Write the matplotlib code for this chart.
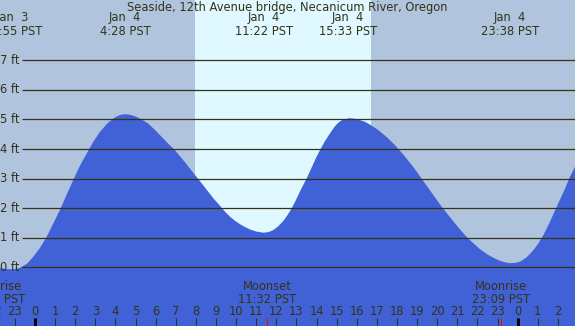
import matplotlib
matplotlib.use("Agg")
import matplotlib.pyplot as plt

# =============================================================
# DATA (hours since Jan 4 00:00 PST, heights in ft)
# =============================================================

title = "Seaside, 12th Avenue bridge, Necanicum River, Oregon"

tide_hours = [-1.74, -1.40, -1.08, -0.75, -0.40, -0.08, 0.25, 0.58, 0.90, 1.24,
              1.57, 1.90, 2.23, 2.57, 2.90, 3.23, 3.60, 3.98, 4.22, 4.47,
              4.72, 4.97, 5.30, 5.63, 5.96, 6.30, 6.63, 6.96, 7.46, 7.96,
              8.30, 8.62, 8.90, 9.20, 9.45, 9.70, 9.95, 10.19, 10.45, 10.69,
              11.00, 11.35, 11.60, 11.85, 12.10, 12.35, 12.56, 12.76, 12.95,
              13.13, 13.32, 13.51, 13.68, 13.84, 14.00, 14.17, 14.42, 14.67,
              14.86, 15.05, 15.22, 15.42, 15.65, 15.91, 16.15, 16.41, 16.74,
              17.07, 17.50, 17.90, 18.33, 18.73, 19.06, 19.39, 19.80, 20.22,
              20.70, 21.13, 21.46, 21.80, 22.13, 22.46, 22.80, 23.12, 23.37,
              23.62, 23.87, 24.12, 24.45, 24.78, 25.03, 25.28, 25.60, 25.94,
              26.30, 26.60, 26.85]
tide_ft = [-0.03, -0.06, -0.07, -0.02, 0.12, 0.36, 0.66, 1.03, 1.47, 1.94,
           2.45, 2.95, 3.43, 3.85, 4.25, 4.58, 4.87, 5.07, 5.15, 5.18,
           5.16, 5.11, 5.00, 4.86, 4.65, 4.41, 4.18, 3.96, 3.55, 3.12,
           2.83, 2.55, 2.31, 2.08, 1.88, 1.71, 1.57, 1.46, 1.36, 1.28,
           1.21, 1.17, 1.19, 1.26, 1.39, 1.57, 1.77, 1.99, 2.24,
           2.50, 2.76, 3.01, 3.26, 3.50, 3.74, 3.96, 4.27, 4.53,
           4.72, 4.87, 4.96, 5.01, 5.04, 5.02, 4.98, 4.92, 4.79,
           4.64, 4.40, 4.13, 3.80, 3.46, 3.16, 2.84, 2.45, 2.05,
           1.64, 1.28, 1.03, 0.81, 0.61, 0.45, 0.32, 0.22, 0.17,
           0.14, 0.15, 0.19, 0.34, 0.58, 0.81, 1.09, 1.53, 2.05,
           2.58, 3.06, 3.40]

extreme_hours = [-1.08, 4.47, 11.37, 15.55, 23.63]
extreme_dates = ["Jan  3", "Jan  4", "Jan  4", "Jan  4", "Jan  4"]
extreme_times = ["22:55 PST", "4:28 PST", "11:22 PST", "15:33 PST", "23:38 PST"]

moon_hours = [-1.92, 11.53, 23.15]
moon_events = ["Moonrise", "Moonset", "Moonrise"]
moon_times = ["22:05 PST", "11:32 PST", "23:09 PST"]

sunrise = 7.96
sunset = 16.71

grid_ft = [0, 1, 2, 3, 4, 5, 6, 7]
hour_ticks = list(range(-2, 27))

# =============================================================
# STYLE
# =============================================================

night = "#b0c4de"
day = "#e0f8ff"
water = "#4161d6"
ink = "#333318"
fs = 8.3

fig = plt.figure(figsize=(5.75, 3.26), dpi=100)
fig.patch.set_facecolor(night)
ax = fig.add_axes([0, 0, 1, 1])
ax.set_facecolor(night)
ax.set_xlim(-1.74, 26.85)
ax.set_ylim(-1.985, 9.04)
ax.axis("off")

xt = ax.get_xaxis_transform()

# daylight band
ax.axvspan(sunrise, sunset, color=day, lw=0, zorder=1)

# tide
ax.fill_between(tide_hours, -1.985, tide_ft, color=water, lw=0, zorder=2)

# gridlines + labels
ax.hlines(grid_ft, -0.65, 26.85, color=ink, lw=0.9, zorder=3)
for g in grid_ft:
    ax.text(-0.76, g, f"{g} ft", ha="right", va="center",
            fontsize=fs, color=ink, zorder=4)

# title and extremes
ax.text(12.56, 0.978, title, transform=xt, ha="center", va="center",
        fontsize=fs, color=ink, zorder=4)
for h, d, t in zip(extreme_hours, extreme_dates, extreme_times):
    ax.text(h, 0.945, d, transform=xt, ha="center", va="center",
            fontsize=fs, color=ink, zorder=4)
    ax.text(h, 0.903, t, transform=xt, ha="center", va="center",
            fontsize=fs, color=ink, zorder=4)

# moon events
for h, e, t in zip(moon_hours, moon_events, moon_times):
    ax.text(h, 0.120, e, transform=xt, ha="center", va="center",
            fontsize=fs, color=ink, zorder=4)
    ax.text(h, 0.081, t, transform=xt, ha="center", va="center",
            fontsize=fs, color=ink, zorder=4)
    ax.vlines(h, 0, 0.0245, transform=xt, color="red", lw=0.8, zorder=5)

# hour ticks
for h in hour_ticks:
    ax.text(h, 0.043, str(h % 24), transform=xt, ha="center", va="center",
            fontsize=fs, color=ink, zorder=4)
    lw = 2.2 if h % 24 == 0 else 0.75
    col = "black" if h % 24 == 0 else ink
    ax.vlines(h, 0, 0.0245, transform=xt, color=col, lw=lw, zorder=4)

fig.savefig("out.png", dpi=100, facecolor=night)
